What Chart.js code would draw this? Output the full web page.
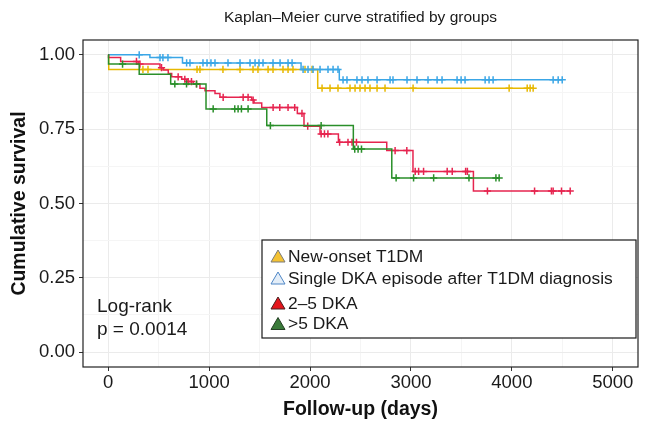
<!DOCTYPE html>
<html lang="en">
<head>
    <meta charset="UTF-8">
    <title>Kaplan–Meier curve stratified by groups</title>
    <script src="https://cdn.jsdelivr.net/npm/chart.js"></script>
    <style>
        html, body { margin: 0; padding: 0; background: #FFFFFF; }
        .chart-box { width: 650px; height: 435px; }
    </style>
</head>
<body>
    <div class="chart-box">
        <canvas id="kmChart" width="650" height="435"></canvas>
    </div>

    <script>
        // Groups (legend order)
        const groupNames = ['New-onset T1DM', 'Single DKA episode after T1DM diagnosis', '2–5 DKA', '>5 DKA'];
        const lineColors = ['#E7B800', '#3AA6E6', '#E6244F', '#2A8F2A'];

        // New-onset T1DM: event times (days) and survival after each event
        const newOnsetTimes = [5, 2076];
        const newOnsetSurv = [0.951, 0.888];
        const newOnsetEnd = 4211;
        const newOnsetCensor = [344, 394, 880, 909, 1137, 1306, 1435, 1484, 1584, 1633, 1732, 1782, 1831, 1950, 2020,
            2119, 2198, 2277, 2396, 2446, 2495, 2545, 2594, 2664, 2743, 3021, 3973, 4152, 4181, 4211];

        // Single DKA episode after T1DM diagnosis
        const singleTimes = [413, 736, 1911, 2290];
        const singleSurv = [0.991, 0.973, 0.951, 0.916];
        const singleEnd = 4499;
        const singleCensor = [307, 513, 542, 592, 777, 810, 939, 979, 1018, 1058, 1187, 1306, 1405, 1455, 1494, 1534,
            1633, 1703, 1782, 1822, 1931, 1980, 2030, 2099, 2178, 2228, 2277, 2327, 2366, 2465, 2515, 2574, 2664,
            2793, 2822, 2961, 3060, 3169, 3259, 3308, 3457, 3497, 3536, 3735, 3774, 3814, 4409, 4459, 4499];

        // 2–5 DKA
        const dka25Times = [3, 123, 297, 513, 545, 595, 629, 728, 777, 843, 909, 959, 1058, 1107, 1422, 1445, 1521,
            1874, 1940, 2099, 2281, 2760, 3020, 3619];
        const dka25Surv = [0.991, 0.978, 0.969, 0.957, 0.949, 0.937, 0.926, 0.918, 0.910, 0.902, 0.888, 0.879, 0.870,
            0.857, 0.848, 0.838, 0.823, 0.803, 0.760, 0.734, 0.706, 0.678, 0.608, 0.542];
        const dka25End = 4578;
        const dka25Censor = [280, 314, 528, 693, 759, 792, 825, 875, 1139, 1337, 1386, 1436, 1634, 1700, 1782, 1848,
            1920, 1977, 2110, 2143, 2177, 2293, 2376, 2416, 2460, 2843, 2959, 3042, 3076, 3125, 3359, 3409, 3542,
            3559, 3758, 4225, 4392, 4409, 4492, 4578];

        // >5 DKA
        const dka5Times = [3, 307, 619, 969, 1571, 2429, 2810];
        const dka5Surv = [0.969, 0.935, 0.902, 0.818, 0.762, 0.683, 0.586];
        const dka5End = 3874;
        const dka5Censor = [142, 660, 776, 875, 1040, 1254, 1287, 1320, 1386, 1607, 2110, 2443, 2476, 2510, 2853,
            3026, 3225, 3575, 3842, 3874];

        // Axis ticks (major labelled, minor only as grid)
        const xTicks = [0, 500, 1000, 1500, 2000, 2500, 3000, 3500, 4000, 4500, 5000];
        const yTicks = [0, 0.125, 0.25, 0.375, 0.5, 0.625, 0.75, 0.875, 1];
        const logRankLines = ['Log-rank', 'p = 0.0014'];

        const FONT = '"Liberation Sans", Arial, Helvetica, sans-serif';

        // step curve points: starts at 1 at time 0
        function kmPoints(times, surv, end) {
            const pts = [{ x: 0, y: 1 }];
            times.forEach((t, i) => pts.push({ x: t, y: surv[i] }));
            pts.push({ x: end, y: surv[surv.length - 1] });
            return pts;
        }

        // survival value at time t, for placing censor marks on the curve
        function survAt(times, surv, t) {
            let s = 1;
            for (let i = 0; i < times.length; i++) {
                if (times[i] <= t) s = surv[i];
            }
            return s;
        }

        const groups = [
            [newOnsetTimes, newOnsetSurv, newOnsetEnd, newOnsetCensor],
            [singleTimes, singleSurv, singleEnd, singleCensor],
            [dka25Times, dka25Surv, dka25End, dka25Censor],
            [dka5Times, dka5Surv, dka5End, dka5Censor]
        ];

        const datasets = [];
        groups.forEach(([times, surv, end, censor], i) => {
            datasets.push({
                type: 'line',
                label: groupNames[i],
                data: kmPoints(times, surv, end),
                stepped: 'before',
                borderColor: lineColors[i],
                borderWidth: 1.5,
                pointRadius: 0,
                fill: false,
                order: 10 - i * 2
            });
            datasets.push({
                type: 'line',
                label: groupNames[i] + ' censored',
                data: censor.map(t => ({ x: t, y: survAt(times, surv, t) })),
                showLine: false,
                pointStyle: 'cross',
                pointRadius: 3.6,
                pointBorderWidth: 1.5,
                pointBorderColor: lineColors[i],
                borderColor: lineColors[i],
                order: 9 - i * 2
            });
        });

        const isMajorX = v => v % 1000 === 0;
        const isMajorY = v => Math.abs(v / 0.25 - Math.round(v / 0.25)) < 1e-6;

        // legend keys: triangle fill / outline
        const legendFill = ['#F4C233', '#E4EEF8', '#E4151C', '#3A7A3A'];
        const legendEdge = ['#7A7A7A', '#4E86C6', '#4A2020', '#253F25'];

        const decor = {
            id: 'decor',
            beforeDraw(chart) {
                const ctx = chart.ctx;
                ctx.save();
                ctx.fillStyle = '#FFFFFF';
                ctx.fillRect(0, 0, chart.width, chart.height);
                ctx.restore();
            },
            afterDraw(chart) {
                const ctx = chart.ctx;
                const a = chart.chartArea;
                ctx.save();

                // panel border
                ctx.strokeStyle = '#222222';
                ctx.lineWidth = 1.2;
                ctx.strokeRect(a.left, a.top, a.right - a.left, a.bottom - a.top);

                // title
                ctx.fillStyle = '#1A1A1A';
                ctx.font = '15.5px ' + FONT;
                ctx.textAlign = 'center';
                ctx.textBaseline = 'middle';
                ctx.fillText('Kaplan–Meier curve stratified by groups', (a.left + a.right) / 2, 18);

                // log-rank annotation
                ctx.font = '19px ' + FONT;
                ctx.textAlign = 'left';
                ctx.fillText(logRankLines[0], a.left + 14, 307);
                ctx.fillText(logRankLines[1], a.left + 14, 330);

                // legend box
                const lx = 262, ly = 240, lw = 374, lh = 98;
                ctx.fillStyle = '#FFFFFF';
                ctx.fillRect(lx, ly, lw, lh);
                ctx.strokeStyle = '#1A1A1A';
                ctx.lineWidth = 1.2;
                ctx.strokeRect(lx, ly, lw, lh);

                const rowY = [256, 278, 303, 323.5];
                ctx.font = '17.4px ' + FONT;
                groupNames.forEach((name, i) => {
                    const cx = 278, cy = rowY[i];
                    ctx.beginPath();
                    ctx.moveTo(cx, cy - 6);
                    ctx.lineTo(cx + 7, cy + 6);
                    ctx.lineTo(cx - 7, cy + 6);
                    ctx.closePath();
                    ctx.fillStyle = legendFill[i];
                    ctx.fill();
                    ctx.strokeStyle = legendEdge[i];
                    ctx.lineWidth = 1;
                    ctx.stroke();
                    ctx.fillStyle = '#1A1A1A';
                    ctx.fillText(name, 288, cy + 1);
                });
                ctx.restore();
            }
        };

        new Chart(document.getElementById('kmChart'), {
            type: 'line',
            data: { datasets },
            options: {
                responsive: false,
                animation: false,
                devicePixelRatio: 1,
                layout: { padding: { top: 40, right: 12, left: 0, bottom: 0 } },
                plugins: {
                    legend: { display: false },
                    tooltip: { enabled: false },
                    title: { display: false }
                },
                scales: {
                    x: {
                        type: 'linear',
                        min: -250,
                        max: 5250,
                        afterBuildTicks: s => { s.ticks = xTicks.map(v => ({ value: v })); },
                        afterFit: s => { s.height = 68; s.paddingLeft = 0; s.paddingRight = 0; },
                        border: { display: false },
                        grid: {
                            color: c => isMajorX(c.tick.value) ? '#EBEBEB' : '#F5F5F5',
                            tickColor: c => isMajorX(c.tick.value) ? '#333333' : 'rgba(0,0,0,0)',
                            tickLength: 4,
                            lineWidth: 1
                        },
                        ticks: {
                            autoSkip: false,
                            maxRotation: 0,
                            padding: 1,
                            color: '#1A1A1A',
                            font: { family: FONT, size: 18.5 },
                            callback: v => isMajorX(v) ? String(v) : ''
                        },
                        title: {
                            display: true,
                            text: 'Follow-up (days)',
                            color: '#111111',
                            font: { family: FONT, size: 19.5, weight: 'bold' },
                            padding: { top: 0, bottom: 14 }
                        }
                    },
                    y: {
                        min: -0.05,
                        max: 1.05,
                        afterBuildTicks: s => { s.ticks = yTicks.map(v => ({ value: v })); },
                        afterFit: s => { s.width = 83; s.paddingTop = 0; s.paddingBottom = 0; },
                        border: { display: false },
                        grid: {
                            color: c => isMajorY(c.tick.value) ? '#EBEBEB' : '#F5F5F5',
                            tickColor: c => isMajorY(c.tick.value) ? '#333333' : 'rgba(0,0,0,0)',
                            tickLength: 4,
                            lineWidth: 1
                        },
                        ticks: {
                            autoSkip: false,
                            padding: 4,
                            color: '#1A1A1A',
                            font: { family: FONT, size: 18.5 },
                            callback: v => isMajorY(v) ? v.toFixed(2) : ''
                        },
                        title: {
                            display: true,
                            text: 'Cumulative survival',
                            color: '#111111',
                            font: { family: FONT, size: 19.5, weight: 'bold' },
                            padding: { top: 8, bottom: 0 }
                        }
                    }
                }
            },
            plugins: [decor]
        });
    </script>
</body>
</html>
